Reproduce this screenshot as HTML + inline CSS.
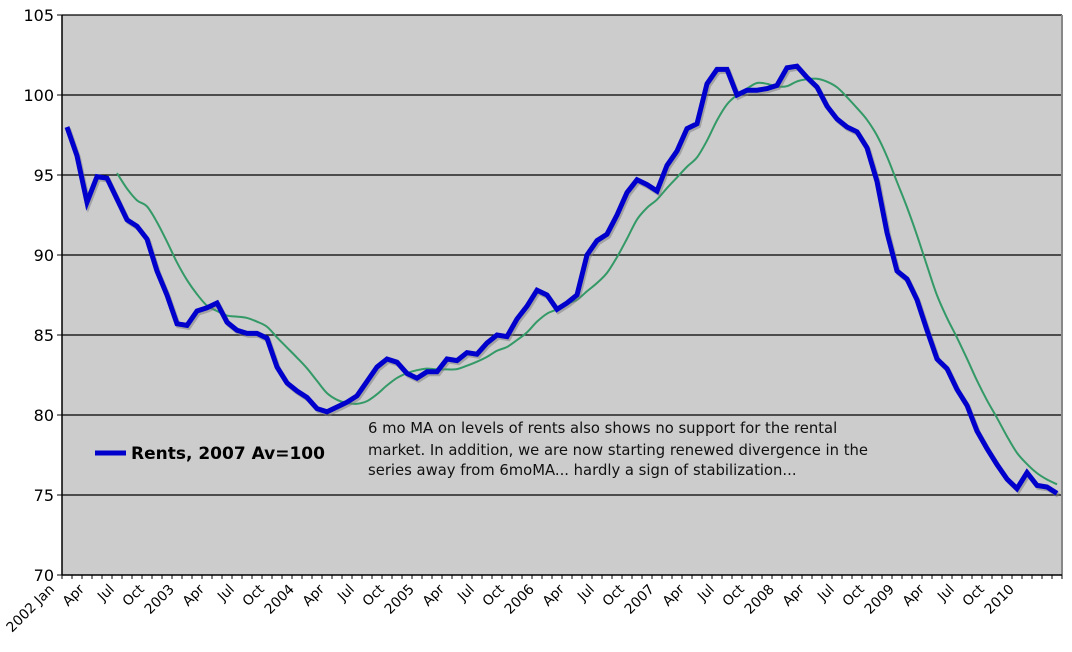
<!DOCTYPE html>
<html><head><meta charset="utf-8">
<style>
html,body{margin:0;padding:0;background:#fff;}
svg{display:block;font-family:"DejaVu Sans","Liberation Sans",sans-serif;}
</style></head>
<body>
<svg id="chart" width="1072" height="652">
  <rect x="62" y="15" width="1000" height="560" fill="#cccccc"/>
  <g id="grid"></g>
  <g id="yt"></g>
  <g id="xt"></g>
  <g id="series"></g>
  <g>
    <line x1="95" y1="453" x2="126" y2="453" stroke="#0000cc" stroke-width="5"/>
    <text x="131" y="459" font-size="17" font-weight="bold" fill="#000">Rents, 2007 Av=100</text>
  </g>
  <g font-size="14.8" fill="#111">
    <text x="368" y="433">6 mo MA on levels of rents also shows no support for the rental</text>
    <text x="368" y="455">market. In addition, we are now starting renewed divergence in the</text>
    <text x="368" y="475">series away from 6moMA... hardly a sign of stabilization...</text>
  </g>
</svg>
<script>
const rents=[98.0,96.2,93.3,94.9,94.8,93.5,92.2,91.8,91.0,89.0,87.5,85.7,
85.6,86.5,86.7,87.0,85.8,85.3,85.1,85.1,84.8,83.0,82.0,81.5,
81.1,80.4,80.2,80.5,80.8,81.2,82.1,83.0,83.5,83.3,82.6,82.3,
82.7,82.7,83.5,83.4,83.9,83.8,84.5,85.0,84.9,86.0,86.8,87.8,
87.5,86.6,87.0,87.5,90.0,90.9,91.3,92.5,93.9,94.7,94.4,94.0,
95.6,96.5,97.9,98.2,100.7,101.6,101.6,100.0,100.3,100.3,100.4,100.6,
101.7,101.8,101.1,100.5,99.3,98.5,98.0,97.7,96.7,94.6,91.4,89.0,
88.5,87.2,85.3,83.5,82.9,81.6,80.6,79.0,77.9,76.9,76.0,75.4,
76.4,75.6,75.5,75.1];
const years=["2002 Jan","2003","2004","2005","2006","2007","2008","2009","2010"];
const monthLabels=["","Apr","Jul","Oct"];
const yTicks=[70,75,80,85,90,95,100,105];
const maWindow=6;

const NS="http://www.w3.org/2000/svg";
const X0=62,X1=1062,Y0=575,Y1=15,VMIN=70,VMAX=105;
const n=rents.length, step=(X1-X0)/n;
const xs=i=>X0+(i+0.5)*step;
const ys=v=>Y0-(v-VMIN)/(VMAX-VMIN)*(Y0-Y1);
function mk(tag,attrs,parent){const e=document.createElementNS(NS,tag);for(const k in attrs)e.setAttribute(k,attrs[k]);parent.appendChild(e);return e;}

const grid=document.getElementById('grid'),yt=document.getElementById('yt'),xt=document.getElementById('xt'),ser=document.getElementById('series');
yTicks.forEach(v=>{
  const y=ys(v);
  if(v>VMIN){const l=mk('line',{x1:X0,x2:X1,y1:y,y2:y,stroke:'#000','stroke-width':1.2},grid);
  
  }
  const tk=mk('line',{x1:X0-5,x2:X0,y1:y,y2:y,stroke:'#000'},yt);
  
  
  const t=mk('text',{x:X0-8,y:y+6,'text-anchor':'end','font-size':16,fill:'#000'},yt);
  t.textContent=v;
  
  
});
mk('line',{x1:X0,x2:X0,y1:Y1,y2:Y0,stroke:'#000','stroke-width':1.5},grid);
mk('line',{x1:X1,x2:X1,y1:Y1,y2:Y0,stroke:'#888','stroke-width':2},grid);
mk('line',{x1:X0,x2:X1,y1:Y0,y2:Y0,stroke:'#000','stroke-width':1.5},grid);
for(let i=0;i<=n;i++){
  const x=X0+i*step;
  const tk=mk('line',{x1:x,x2:x,y1:Y0,y2:Y0+4,stroke:'#000'},xt);
  
  
}
for(let i=0;i<n;i+=3){
  const m=i%12;
  if(i>=96 && m!==0)continue;
  const lab=m===0?years[i/12]:monthLabels[m/3];
  if(!lab)continue;
  const x=xs(i)-12,y=Y0+15;
  const t=mk('text',{x:x,y:y,'text-anchor':'end','font-size':13.8,fill:'#000',transform:`rotate(-45 ${x} ${y})`},xt);
  t.textContent=lab;
  
  
}
const ma=[];
for(let i=maWindow-1;i<n;i++){let s=0;for(let j=i-maWindow+1;j<=i;j++)s+=rents[j];ma.push([i,s/maWindow]);}
function smooth(pts){
  let d=`M${pts[0][0]},${pts[0][1]}`;
  for(let i=0;i<pts.length-1;i++){
    const p0=pts[Math.max(0,i-1)],p1=pts[i],p2=pts[i+1],p3=pts[Math.min(pts.length-1,i+2)];
    const c1=[p1[0]+(p2[0]-p0[0])/6,p1[1]+(p2[1]-p0[1])/6],c2=[p2[0]-(p3[0]-p1[0])/6,p2[1]-(p3[1]-p1[1])/6];
    d+=` C${c1[0]},${c1[1]} ${c2[0]},${c2[1]} ${p2[0]},${p2[1]}`;
  }
  return d;
}
const maPath=mk('path',{d:smooth(ma.map(([i,v])=>[xs(i),ys(v)])),fill:'none',stroke:'#339966','stroke-width':2},ser);


const pts=rents.map((v,i)=>`${xs(i)},${ys(v)}`).join(' ');
const sh=mk('polyline',{points:pts,fill:'none',stroke:'#777','stroke-opacity':0.5,'stroke-width':5,transform:'translate(1.5,2)','stroke-linejoin':'miter'},ser);


const rl=mk('polyline',{points:pts,fill:'none',stroke:'#0000cc','stroke-width':5,'stroke-linejoin':'miter'},ser);


</script>
</body></html>
